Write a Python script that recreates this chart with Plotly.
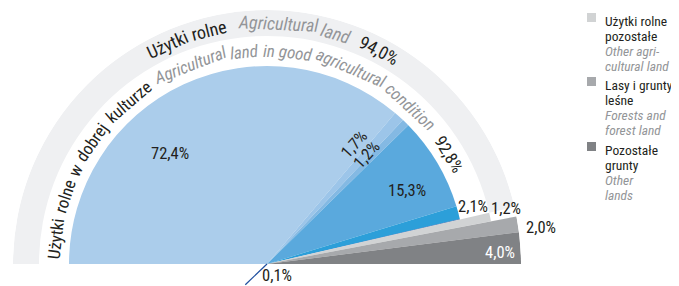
import math
import plotly.graph_objects as go

# ---------------- data ----------------
slice_values = [72.4, 1.7, 1.2, 15.3, 2.1, 0.1, 1.2, 2.0, 4.0]
slice_labels = ["72,4%", "1,7%", "1,2%", "15,3%", "2,1%", "0,1%", "1,2%", "2,0%", "4,0%"]
agricultural_total = 94.0      # Użytki rolne
good_condition_total = 92.8    # Użytki rolne w dobrej kulturze

ring_outer_texts = ["Użytki rolne", "Agricultural land", "94,0%"]
ring_inner_texts = ["Użytki rolne w dobrej kulturze",
                    "Agricultural land in good agricultural condition", "92,8%"]

legend_titles_pl = [["Użytki rolne", "pozostałe"], ["Lasy i grunty", "leśne"], ["Pozostałe", "grunty"]]
legend_titles_en = [["Other agri-", "cultural land"], ["Forests and", "forest land"], ["Other", "lands"]]

# ---------------- style ----------------
W, H = 679, 286
OFF = 8                      # page (body) margin of the html page
CX, CY, RMAX = 267, 264, 254  # centre and outer radius, in window pixels
FONT = "Roboto Condensed, Liberation Sans Narrow, Arial Narrow, sans-serif"
BLACK = "#231f20"
GREY_TXT = "#939598"
RING = "#eff0f2"
slice_colors = ["#abcdeb", "#9cc5e9", "#84b9e3", "#5aa9dd", "#2c9fd9", "#1f4f9f",
                "#d1d3d4", "#a7a9ac", "#808285"]
slice_radius = [198, 198, 198, 198, 198, 198, 228, 254, 254]
R_MID = 228
# label placement (radius, angle) and style
label_polar = [(147, 131.2), (148, 54.1), (148, 47.5), (158, 27.9), (214, 15.5),
               (15.5, -50), (245, 13.2), (276, 7.5), (233, 2.9)]
label_angle = [0, -48, -48, 0, 0, 0, 0, 0, 0]
label_color = [BLACK] * 8 + ["white"]
ARC_FS, LAB_FS, LEG_FS = 17, 16.5, 13.5


def px2paper(px, py):
    return (px - OFF) / W, 1 - (py - OFF) / H


def to_paper(r, theta_deg):
    t = math.radians(theta_deg)
    return px2paper(CX + r * math.cos(t), CY - r * math.sin(t))


# ---------------- slices ----------------
thetas, widths = [], []
cum = 0.0
for v in slice_values:
    thetas.append(180 - 1.8 * (cum + v / 2))
    widths.append(1.8 * v)
    cum += v

fig = go.Figure()

# outer ring (agricultural land) drawn as an arc band
ring_span = 1.8 * good_condition_total
fig.add_trace(go.Barpolar(
    r=[RMAX - R_MID], base=[R_MID], theta=[180 - ring_span / 2], width=[ring_span],
    marker=dict(color=RING, line=dict(width=0)), hoverinfo="skip", showlegend=False))

fig.add_trace(go.Barpolar(
    r=slice_radius, theta=thetas, width=widths,
    marker=dict(color=slice_colors, line=dict(width=0)),
    text=slice_labels, hoverinfo="text", showlegend=False))

dx0, dy1 = px2paper(CX - RMAX, CY - RMAX)
dx1, dy0 = px2paper(CX + RMAX, CY)
fig.update_layout(
    width=W, height=H, margin=dict(l=0, r=0, t=0, b=0),
    paper_bgcolor="white", plot_bgcolor="white",
    polar=dict(
        domain=dict(x=[dx0, dx1], y=[dy0, dy1]),
        sector=[0, 180], bgcolor="rgba(0,0,0,0)",
        radialaxis=dict(range=[0, RMAX], visible=False, showgrid=False),
        angularaxis=dict(visible=False, showgrid=False, rotation=0, direction="counterclockwise"),
    ),
    showlegend=False,
)

annotations = []
shapes = []

# slice labels
for lab, (lr, lt), ang, col in zip(slice_labels, label_polar, label_angle, label_color):
    x, y = to_paper(lr, lt)
    annotations.append(dict(x=x, y=y, xref="paper", yref="paper", text=lab, showarrow=False,
                            textangle=ang, font=dict(family=FONT, size=LAB_FS, color=col),
                            xanchor="center", yanchor="middle"))

# leader line for 0,1 %
x0, y0 = to_paper(0, 0)
x1, y1 = to_paper(30, 223.7)
shapes.append(dict(type="line", xref="paper", yref="paper", x0=x0, y0=y0, x1=x1, y1=y1,
                   line=dict(color=slice_colors[5], width=1.2)))

# ---------------- curved texts ----------------
CW = {' ': 278, ',': 278, '%': 889, '-': 333, 'a': 556, 'b': 556, 'c': 500, 'd': 556, 'e': 556,
      'f': 278, 'g': 556, 'h': 556, 'i': 222, 'j': 222, 'k': 500, 'l': 222, 'm': 833, 'n': 556,
      'o': 556, 'p': 556, 'q': 556, 'r': 333, 's': 500, 't': 278, 'u': 556, 'v': 500, 'w': 722,
      'x': 500, 'y': 500, 'z': 500, 'A': 667, 'U': 722, 'ż': 500, 'ł': 222, 'ś': 500}


def est(s):
    return sum(CW.get(c, 556) for c in s)


def arc_text(text, a0, a1, r, size, color, italic):
    words = text.split(" ")
    wl = [est(w) for w in words]
    sp = CW[' ']
    total = sum(wl) + sp * (len(words) - 1)
    k = (a0 - a1) / total
    pos = a0
    for w, wd in zip(words, wl):
        c = pos - wd * k / 2
        x, y = to_paper(r, c)
        t = f"<i>{w}</i>" if italic else w
        annotations.append(dict(x=x, y=y, xref="paper", yref="paper", text=t, showarrow=False,
                                textangle=90 - c, font=dict(family=FONT, size=size, color=color),
                                xanchor="center", yanchor="middle"))
        pos -= (wd + sp) * k


outer_spans = [(119.5, 99.8, BLACK, False), (96.6, 69.9, GREY_TXT, True), (68.1, 56.4, BLACK, False)]
for txt, (a0, a1, col, it) in zip(ring_outer_texts, outer_spans):
    arc_text(txt, a0, a1, 241, ARC_FS + 1, col, it)

inner_spans = [(179.0, 123.0, BLACK, False), (121.3, 39.4, GREY_TXT, True), (38.0, 24.5, BLACK, False)]
for txt, (a0, a1, col, it) in zip(ring_inner_texts, inner_spans):
    arc_text(txt, a0, a1, 213, ARC_FS, col, it)

# ---------------- legend ----------------
LX_SW, LX_TX = 587, 603
item_tops = [13, 77, 142]
line_offsets = [12.5, 27.5, 42.5, 57.5]
for i in range(3):
    top = item_tops[i]
    sx0, sy1 = px2paper(LX_SW, top)
    sx1, sy0 = px2paper(LX_SW + 9, top + 9)
    shapes.append(dict(type="rect", xref="paper", yref="paper", x0=sx0, x1=sx1, y0=sy0, y1=sy1,
                       fillcolor=slice_colors[6 + i], line=dict(width=0)))
    lines = [(legend_titles_pl[i][0], BLACK, False), (legend_titles_pl[i][1], BLACK, False),
             (legend_titles_en[i][0], GREY_TXT, True), (legend_titles_en[i][1], GREY_TXT, True)]
    for (txt, col, it), off in zip(lines, line_offsets):
        base = top + off
        tx, ty = px2paper(LX_TX, base - 0.35 * LEG_FS)
        annotations.append(dict(x=tx, y=ty, xref="paper", yref="paper",
                                text=f"<i>{txt}</i>" if it else txt, showarrow=False,
                                font=dict(family=FONT, size=LEG_FS, color=col),
                                xanchor="left", yanchor="middle"))

fig.update_layout(annotations=annotations, shapes=shapes)
fig.write_html("out.html")
